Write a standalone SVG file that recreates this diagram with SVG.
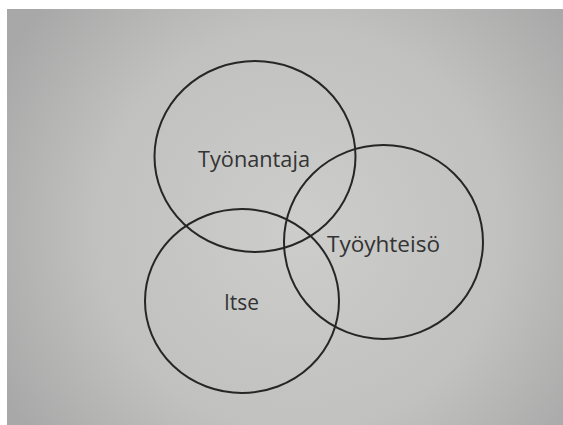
<svg xmlns="http://www.w3.org/2000/svg" width="563" height="425" viewBox="0 0 563 425">
  <defs>
    <radialGradient id="paper" cx="300" cy="230" r="340" gradientUnits="userSpaceOnUse">
      <stop offset="0" stop-color="#cdcdcb"/>
      <stop offset="0.6" stop-color="#c1c1c0"/>
      <stop offset="1" stop-color="#a8a8a8"/>
    </radialGradient>
  </defs>
  <style>
    .ring { fill: none; stroke: #262626; stroke-width: 2; }
    .lbl { font-family: "Open Sans", "Liberation Sans", sans-serif; font-size: 22px; fill: #333333; }
  </style>
  <rect x="0" y="0" width="563" height="425" fill="#ffffff"/>
  <rect x="7" y="9" width="556" height="416" fill="url(#paper)"/>
  <g id="tyonantaja">
    <ellipse class="ring" cx="255" cy="156.5" rx="100.5" ry="95.5"/>
    <text class="lbl" x="254" y="166.5" text-anchor="middle" textLength="112" lengthAdjust="spacingAndGlyphs">Työnantaja</text>
  </g>
  <g id="itse">
    <ellipse class="ring" cx="242" cy="301" rx="97" ry="92"/>
    <text class="lbl" x="241.5" y="310" text-anchor="middle" textLength="35" lengthAdjust="spacingAndGlyphs">Itse</text>
  </g>
  <g id="tyoyhteiso">
    <ellipse class="ring" cx="383.5" cy="242" rx="99.5" ry="97"/>
    <text class="lbl" x="383.5" y="251.5" text-anchor="middle" textLength="113" lengthAdjust="spacingAndGlyphs">Työyhteisö</text>
  </g>
</svg>
